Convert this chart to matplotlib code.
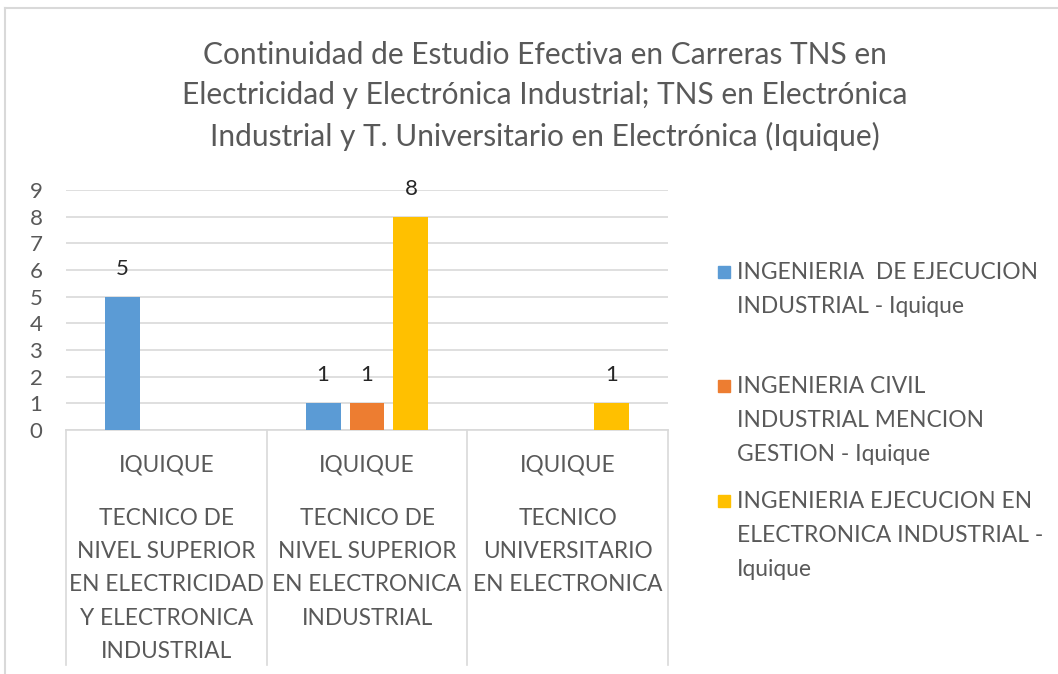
import matplotlib
matplotlib.use("Agg")
import matplotlib.pyplot as plt
import numpy as np
from matplotlib.patches import Rectangle
from matplotlib.lines import Line2D

plt.rcParams["font.family"] = ["Lato", "DejaVu Sans"]
TXT = "#595959"
GRID = "#D9D9D9"

# data
places = ["IQUIQUE", "IQUIQUE", "IQUIQUE"]
careers = ["TECNICO DE\nNIVEL SUPERIOR\nEN ELECTRICIDAD\nY ELECTRONICA\nINDUSTRIAL",
           "TECNICO DE\nNIVEL SUPERIOR\nEN ELECTRONICA\nINDUSTRIAL",
           "TECNICO\nUNIVERSITARIO\nEN ELECTRONICA"]
series_names = ["INGENIERIA  DE EJECUCION\nINDUSTRIAL - Iquique",
                "INGENIERIA CIVIL\nINDUSTRIAL MENCION\nGESTION - Iquique",
                "INGENIERIA EJECUCION EN\nELECTRONICA INDUSTRIAL -\nIquique"]
colors = ["#5B9BD5", "#ED7D31", "#FFC000"]
values = [
    [5, 1, None],      # ingenieria de ejecucion industrial
    [None, 1, None],   # ingenieria civil industrial
    [None, 8, 1],      # ingenieria ejecucion electronica
]
title = ("Continuidad de Estudio Efectiva en Carreras TNS en\n"
         "Electricidad y Electrónica Industrial; TNS en Electrónica\n"
         "Industrial y T. Universitario en Electrónica (Iquique)")

W, H = 1058, 674
fig = plt.figure(figsize=(W / 100, H / 100), dpi=100)
ax = fig.add_axes([66 / W, 1 - 430 / H, (668 - 66) / W, (430 - 190) / H])

x = np.arange(len(careers))
bw = 0.174
offs = [-0.219, 0.0, 0.219]
for vals, c, o in zip(values, colors, offs):
    xs = [xi + o for xi, v in zip(x, vals) if v is not None]
    ys = [v for v in vals if v is not None]
    bars = ax.bar(xs, ys, width=bw, color=c, zorder=3)
    for b, v in zip(bars, ys):
        ax.annotate(str(v), (b.get_x() + b.get_width() / 2, v), xytext=(0, 13),
                    textcoords="offset points", ha="center", va="bottom",
                    fontsize=16, color="#262626")

ax.set_xlim(-0.5, 2.5)
ax.set_ylim(0, 9)
ax.set_yticks(range(10))
ax.set_xticks([])
ax.tick_params(axis="y", length=0, pad=17, labelsize=16, labelcolor=TXT)
ax.grid(axis="y", color=GRID, lw=1.2, zorder=0)
for s in ["top", "right", "left"]:
    ax.spines[s].set_visible(False)
ax.spines["bottom"].set_color(GRID)
ax.spines["bottom"].set_linewidth(1.2)

# multi-level category box
ybot = -(665 - 430) / 240
for xv in [-0.5, 0.5, 1.5, 2.5]:
    ax.plot([xv, xv], [0, ybot], transform=ax.get_xaxis_transform(), color=GRID,
            lw=1.2, clip_on=False)
for xi, p, c in zip(x, places, careers):
    ax.text(xi, -35 / 240, p, transform=ax.get_xaxis_transform(), ha="center",
            va="center", fontsize=16.3, color=TXT)
    ax.text(xi, -(508 - 430) / 240, c, transform=ax.get_xaxis_transform(), ha="center",
            va="top", fontsize=16.3, color=TXT, linespacing=1.72)

# legend drawn as text blocks
leg_top = [271, 385, 500]
for name, c, ty in zip(series_names, colors, leg_top):
    fig.patches.append(Rectangle((718 / W, 1 - (ty + 7) / H), 12 / W, 12 / H,
                                 transform=fig.transFigure, color=c))
    fig.text(737 / W, 1 - (ty - 9) / H, name, ha="left", va="top", fontsize=16.4,
             color=TXT, linespacing=1.75)

fig.text(545 / W, 1 - 96 / H, title, ha="center", va="center", fontsize=21.5,
         color=TXT, linespacing=1.52)

# chart border (top and left visible)
fig.add_artist(Line2D([5 / W, 1.0], [1 - 8 / H, 1 - 8 / H], transform=fig.transFigure,
                      color="#D9D9D9", lw=1.5))
fig.add_artist(Line2D([5 / W, 5 / W], [0, 1 - 8 / H], transform=fig.transFigure,
                      color="#D9D9D9", lw=1.5))

fig.savefig("out.png", dpi=100)
